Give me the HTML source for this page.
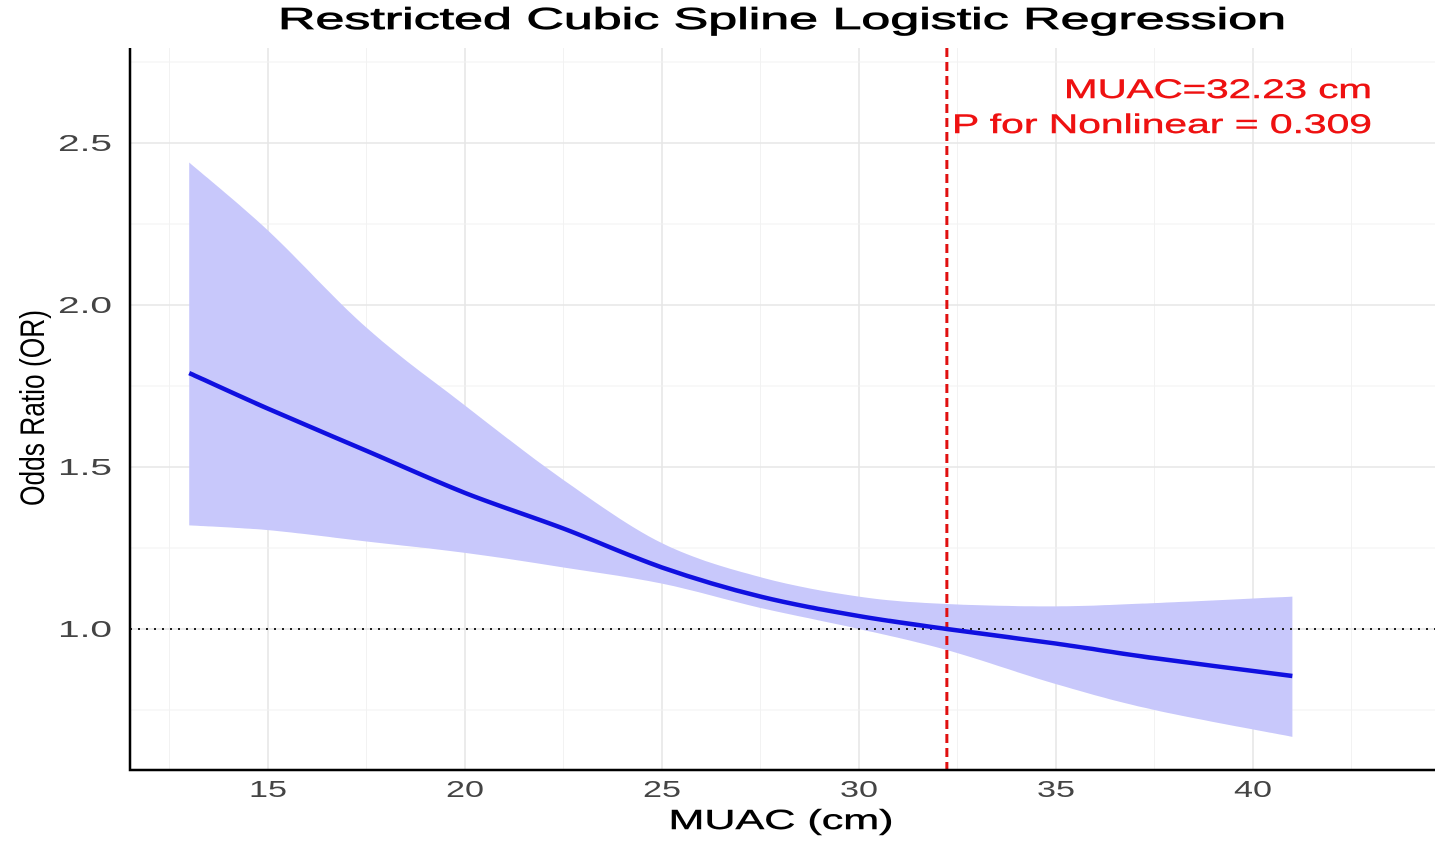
<!DOCTYPE html>
<html><head><meta charset="utf-8"><style>
html,body{margin:0;padding:0;background:#fff;}
svg{display:block;font-family:"Liberation Sans",sans-serif;}
</style></head><body>
<svg id="chart" width="1441" height="841" viewBox="0 0 1441 841">
<g id="grid"></g>
<g id="band"></g>
<g id="marks"></g>
<g id="axes"></g>
<text x="782" y="29" text-anchor="middle" font-size="31" stroke="#000" stroke-width="0.7" textLength="1008" lengthAdjust="spacingAndGlyphs" fill="#000">Restricted Cubic Spline Logistic Regression</text>
<text x="781" y="829" text-anchor="middle" font-size="28" stroke="#000" stroke-width="0.4" textLength="225" lengthAdjust="spacingAndGlyphs" fill="#000">MUAC (cm)</text>
<text transform="translate(44,408) rotate(-90)" text-anchor="middle" font-size="34" textLength="196" lengthAdjust="spacingAndGlyphs" fill="#000">Odds Ratio (OR)</text>
<text x="1372" y="98" text-anchor="end" font-size="27" fill="#ee1111" stroke="#ee1111" stroke-width="0.4" textLength="308" lengthAdjust="spacingAndGlyphs">MUAC=32.23 cm</text>
<text x="1372" y="133" text-anchor="end" font-size="27" fill="#ee1111" stroke="#ee1111" stroke-width="0.4" textLength="420" lengthAdjust="spacingAndGlyphs">P for Nonlinear = 0.309</text>
</svg>
<script>
const xVals=[13,15,17.5,20,22.5,25,27.5,30,32.23,35,37.5,41];
const orVals=[1.79,1.68,1.55,1.42,1.31,1.19,1.10,1.04,1.0,0.955,0.91,0.855];
const upperVals=[2.44,2.23,1.93,1.69,1.46,1.265,1.16,1.10,1.077,1.07,1.08,1.10];
const lowerVals=[1.32,1.305,1.27,1.235,1.19,1.14,1.065,1.0,0.935,0.83,0.75,0.667];
const xTicks=[15,20,25,30,35,40];
const yTicks=[1.0,1.5,2.0,2.5];
const cutoff=32.23;
const refLine=1.0;
const NS='http://www.w3.org/2000/svg';
const X0=130,X1=1435,Y0=48,Y1=770;
const sx=v=>268+(v-15)*39.4;
const sy=v=>629-(v-1)*324;
function mk(tag,attrs,parent){const e=document.createElementNS(NS,tag);for(const k in attrs)e.setAttribute(k,attrs[k]);parent.appendChild(e);return e;}
function smooth(pts,start){let d=start?'M'+pts[0][0]+','+pts[0][1]:'L'+pts[0][0]+','+pts[0][1];
 for(let i=0;i<pts.length-1;i++){const p0=pts[Math.max(0,i-1)],p1=pts[i],p2=pts[i+1],p3=pts[Math.min(pts.length-1,i+2)];
  const c1=[p1[0]+(p2[0]-p0[0])/6,p1[1]+(p2[1]-p0[1])/6],c2=[p2[0]-(p3[0]-p1[0])/6,p2[1]-(p3[1]-p1[1])/6];
  d+=`C${c1[0]},${c1[1]} ${c2[0]},${c2[1]} ${p2[0]},${p2[1]}`;}return d;}
const grid=document.getElementById('grid'),band=document.getElementById('band'),marks=document.getElementById('marks'),axes=document.getElementById('axes');
for(let v=12.5;v<=42.5;v+=2.5){const major=xTicks.includes(v);
 const l=mk('line',{x1:sx(v),x2:sx(v),y1:Y0,y2:Y1,stroke:major?'#e6e6e6':'#f2f2f2','stroke-width':major?1.6:1},grid);
 }
for(let v=0.75;v<=2.75;v+=0.25){const major=yTicks.includes(v);
 const l=mk('line',{x1:X0,x2:X1,y1:sy(v),y2:sy(v),stroke:major?'#e6e6e6':'#f2f2f2','stroke-width':major?1.6:1},grid);
 }
const up=xVals.map((x,i)=>[sx(x),sy(upperVals[i])]);
const lo=xVals.map((x,i)=>[sx(x),sy(lowerVals[i])]).reverse();
const p=mk('path',{d:smooth(up,true)+smooth(lo,false)+'Z',fill:'#c8c8fb',stroke:'none'},band);

const rl=mk('line',{x1:X0,x2:X1,y1:sy(refLine),y2:sy(refLine),stroke:'#222','stroke-width':2,'stroke-dasharray':'2,6'},marks);

const cl=mk('line',{x1:sx(cutoff),x2:sx(cutoff),y1:Y0,y2:Y1,stroke:'#e01010','stroke-width':3,'stroke-dasharray':'9,5'},marks);

const ln=mk('path',{d:smooth(xVals.map((x,i)=>[sx(x),sy(orVals[i])]),true),fill:'none',stroke:'#1010e0','stroke-width':4.5,'stroke-linejoin':'round'},marks);

const ax=mk('path',{d:`M${X0},${Y0}V${Y1}H${X1}`,fill:'none',stroke:'#000','stroke-width':2.5},axes);

xTicks.forEach(v=>{const t=mk('text',{x:sx(v),y:797,'text-anchor':'middle','font-size':23,fill:'#444',textLength:38,lengthAdjust:'spacingAndGlyphs'},axes);t.textContent=v;
 });
yTicks.forEach(v=>{const t=mk('text',{x:112,y:sy(v)+8,'text-anchor':'end','font-size':23,fill:'#444',textLength:54,lengthAdjust:'spacingAndGlyphs'},axes);t.textContent=v.toFixed(1);
 });
</script>
</body></html>
